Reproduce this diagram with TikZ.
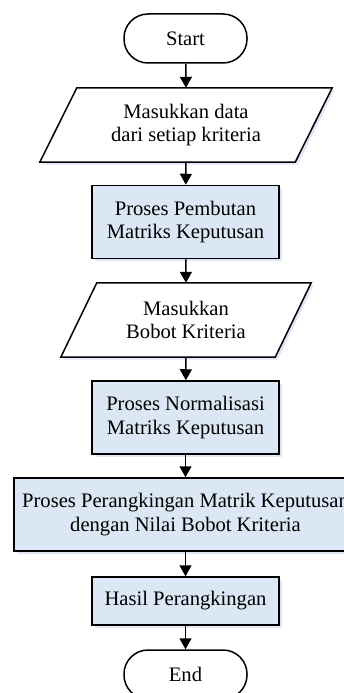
\documentclass[tikz,border=0pt]{standalone}
\usepackage{fontspec}
\setmainfont{Liberation Serif}
\usetikzlibrary{arrows.meta,shadows}
\definecolor{procfill}{RGB}{219,231,244}
\definecolor{shadowc}{RGB}{200,215,235}
\begin{document}
\begin{tikzpicture}[x=1pt,y=-1pt,
  every node/.style={font=\fontsize{20.6}{23.5}\selectfont, align=center, inner sep=0pt},
  term/.style={draw, line width=1.5pt, rounded corners=24pt, minimum width=123pt, minimum height=49pt, fill=white},
  procbox/.style={draw, line width=1.5pt, fill=procfill, minimum height=73pt,
     drop shadow={shadow xshift=2.5pt, shadow yshift=-2.5pt, fill=shadowc, opacity=0.6}},
  iobox/.style={minimum height=74pt},
  para/.style={draw, line width=1.5pt, fill=white},
  arr/.style={line width=1.5pt, -{Triangle[width=12pt,length=11pt]}}
]
\useasboundingbox (0,0) rectangle (344,693);
\fill[white] (0,0) rectangle (344,693);

\node[term] (start) at (185.5,38.5) {Start};

% parallelogram 1
\node[iobox, minimum width=292pt] (in1) at (186,125) {};
\fill[shadowc, opacity=0.6] ([shift={(39.5,2.5)}]in1.north west) -- ([shift={(2.5,2.5)}]in1.north east) -- ([shift={(-34.5,2.5)}]in1.south east) -- ([shift={(2.5,2.5)}]in1.south west) -- cycle;
\draw[para] ([xshift=37pt]in1.north west) -- (in1.north east) -- ([xshift=-37pt]in1.south east) -- (in1.south west) -- cycle;
\node at (in1) {Masukkan data\\dari setiap kriteria};

\node[procbox, minimum width=187pt] (p1) at (185.5,222) {Proses Pembutan\\Matriks Keputusan};

% parallelogram 2
\node[iobox, minimum width=250pt] (in2) at (186,320) {};
\fill[shadowc, opacity=0.6] ([shift={(38.5,2.5)}]in2.north west) -- ([shift={(2.5,2.5)}]in2.north east) -- ([shift={(-33.5,2.5)}]in2.south east) -- ([shift={(2.5,2.5)}]in2.south west) -- cycle;
\draw[para] ([xshift=36pt]in2.north west) -- (in2.north east) -- ([xshift=-36pt]in2.south east) -- (in2.south west) -- cycle;
\node at (in2) {Masukkan\\Bobot Kriteria};

\node[procbox, minimum width=187pt] (p2) at (185.5,417.5) {Proses Normalisasi\\Matriks Keputusan};

\node[procbox, minimum width=343pt] (p3) at (185.5,514.5) {Proses Perangkingan Matrik Keputusan\\dengan Nilai Bobot Kriteria};

\node[procbox, minimum width=187pt, minimum height=48pt] (p4) at (185.5,601) {Hasil Perangkingan};

\node[term] (end) at (185.5,674.5) {End};

\draw[arr] (start) -- (in1.north);
\draw[arr] (in1.south) -- (p1);
\draw[arr] (p1) -- (in2.north);
\draw[arr] (in2.south) -- (p2);
\draw[arr] (p2) -- (p3);
\draw[arr] (p3) -- (p4);
\draw[arr] (p4) -- (end);
\end{tikzpicture}
\end{document}
